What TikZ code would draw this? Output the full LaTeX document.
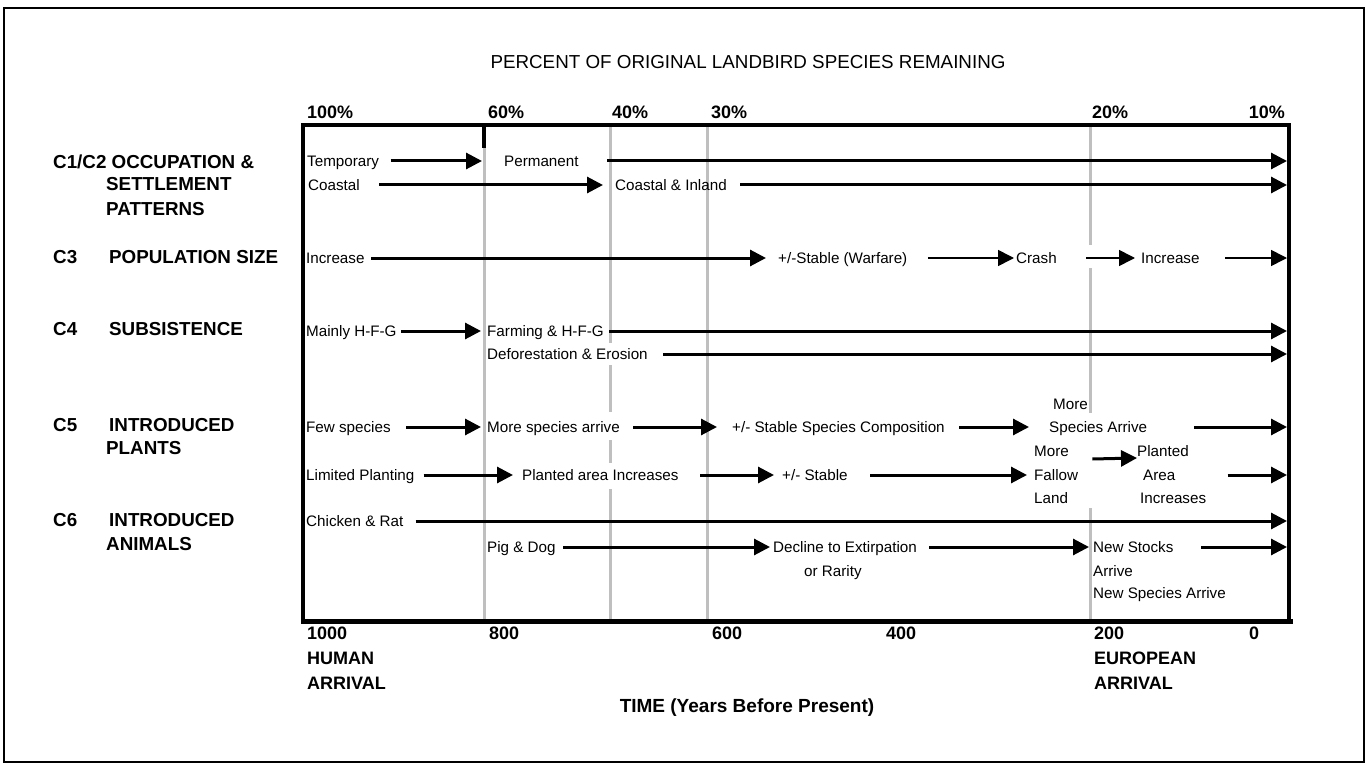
\documentclass[tikz,border=0pt]{standalone}
\usepackage{fontspec}
\setmainfont{Liberation Sans}
\usetikzlibrary{arrows.meta}
\begin{document}
\begin{tikzpicture}[x=1pt,y=-1pt,
  row/.style={font=\fontsize{15.2}{18}\selectfont, inner sep=0pt, anchor=west, text height=10.9pt, text depth=0pt},
  hdr/.style={font=\bfseries\fontsize{18.8}{22}\selectfont, inner sep=0pt, anchor=west, text height=13.5pt, text depth=0pt},
  ax/.style={font=\bfseries\fontsize{18}{22}\selectfont, inner sep=0pt, anchor=west, text height=12.9pt, text depth=0pt},
  arr/.style={line width=3pt, -{Triangle[length=16pt,width=16pt]}},
  tarr/.style={line width=1.6pt, -{Triangle[length=16pt,width=16pt]}},
  gline/.style={line width=3pt, draw=black!25}]
\useasboundingbox (0,0) rectangle (1369,765);
\draw[line width=2pt] (4,8) rectangle (1364,762);

% title
\node[font=\fontsize{18.8}{22}\selectfont, inner sep=0pt] (title) at (748,62) {PERCENT OF ORIGINAL LANDBIRD SPECIES REMAINING};

% percentages
\node[ax] (p100) at (307,112) {100\%};
\node[ax] (p60) at (488,112) {60\%};
\node[ax] (p40) at (612,112) {40\%};
\node[ax] (p30) at (711,112) {30\%};
\node[ax] (p20) at (1092,112) {20\%};
\node[ax, anchor=east] (p10) at (1285,112) {10\%};

% gray time lines
\draw[gline] (484,148) -- (484,621);
\draw[gline] (610,125) -- (610,343) (610,365) -- (610,412) (610,440) -- (610,463) (610,489) -- (610,621);
\draw[gline] (707,125) -- (707,621);
\draw[gline] (1090,125) -- (1090,245) (1090,268) -- (1090,413) (1090,508) -- (1090,621);

% plot frame
\draw[line width=3.5pt] (303,621) -- (303,125) -- (1289,125) -- (1289,621);
\draw[line width=5pt] (301,621) -- (1293,621);
\draw[line width=4.5pt] (484,125) -- (484,148);
\coordinate (pR) at (1287,0);

% left labels
\node[hdr] (l1) at (53,162) {C1/C2 OCCUPATION \&};
\node[hdr] (l1b) at (106,184) {SETTLEMENT};
\node[hdr] (l1c) at (106,209) {PATTERNS};
\node[hdr] (l3) at (53,257) {C3};
\node[hdr] (l3b) at (109,257) {POPULATION SIZE};
\node[hdr] (l4) at (53,329) {C4};
\node[hdr] (l4b) at (109,329) {SUBSISTENCE};
\node[hdr] (l5) at (53,425) {C5};
\node[hdr] (l5b) at (109,425) {INTRODUCED};
\node[hdr] (l5c) at (106,448) {PLANTS};
\node[hdr] (l6) at (53,520) {C6};
\node[hdr] (l6b) at (109,520) {INTRODUCED};
\node[hdr] (l6c) at (106,544) {ANIMALS};

% C1/C2
\node[row] (temp) at (307,161) {Temporary};
\node[row] (perm) at (504,161) {Permanent};
\draw[arr] ([xshift=11.5pt]temp.east) -- ([xshift=-22pt]perm.west);
\draw[arr] ([xshift=28.7pt]perm.east) -- (perm -| pR);
\node[row] (coast) at (308,185) {Coastal};
\node[row] (coastin) at (615,185) {Coastal \& Inland};
\draw[arr] ([xshift=19.5pt]coast.east) -- ([xshift=-12pt]coastin.west);
\draw[arr] ([xshift=13.5pt]coastin.east) -- (coastin -| pR);

% C3
\node[row] (inc1) at (306,258) {Increase};
\node[row] (stab) at (778,258) {+/-Stable (Warfare)};
\node[row] (crash) at (1016,258) {Crash};
\node[row] (inc2) at (1141,258) {Increase};
\draw[arr] ([xshift=6.7pt]inc1.east) -- ([xshift=-12pt]stab.west);
\draw[tarr] ([xshift=20.3pt]stab.east) -- ([xshift=-2pt]crash.west);
\draw[tarr] ([xshift=29.5pt]crash.east) -- ([xshift=-6pt]inc2.west);
\draw[tarr] ([xshift=25.7pt]inc2.east) -- (inc2 -| pR);

% C4
\node[row] (mainly) at (306,331) {Mainly H-F-G};
\node[row] (farm) at (487,331) {Farming \& H-F-G};
\draw[arr] ([xshift=4.7pt]mainly.east) -- ([xshift=-6pt]farm.west);
\draw[arr] ([xshift=5.5pt]farm.east) -- (farm -| pR);
\node[row] (defor) at (487,354) {Deforestation \& Erosion};
\draw[arr] ([xshift=15.5pt]defor.east) -- (defor -| pR);

% C5
\node[row] (few) at (306,427) {Few species};
\node[row] (morea) at (487,427) {More species arrive};
\node[row] (stsp) at (732,427) {+/- Stable Species Composition};
\node[row] (more2) at (1053,404) {More};
\node[row] (spar) at (1049,427) {Species Arrive};
\draw[arr] ([xshift=15.5pt]few.east) -- ([xshift=-6pt]morea.west);
\draw[arr] ([xshift=13.4pt]morea.east) -- ([xshift=-15pt]stsp.west);
\draw[arr] ([xshift=14.5pt]stsp.east) -- ([xshift=-20pt]spar.west);
\draw[arr] ([xshift=47pt]spar.east) -- (spar -| pR);

\node[row] (lim) at (306,475) {Limited Planting};
\node[row] (parea) at (522,475) {Planted area Increases};
\node[row] (stab2) at (782,475) {+/- Stable};
\node[row] (mfl1) at (1034,451) {More};
\node[row] (mfl2) at (1034,475) {Fallow};
\node[row] (mfl3) at (1034,498) {Land};
\node[row] (pai1) at (1137,451) {Planted};
\node[row] (pai2) at (1143,475) {Area};
\node[row] (pai3) at (1140,498) {Increases};
\draw[arr] ([xshift=9pt]lim.east) -- ([xshift=-9pt]parea.west);
\draw[arr] ([xshift=21.7pt]parea.east) -- ([xshift=-8pt]stab2.west);
\draw[arr] ([xshift=22.5pt]stab2.east) -- ([xshift=-7pt]mfl2.west);
\draw[arr] ([xshift=14pt,yshift=16pt]mfl2.east) -- ([yshift=-7pt]pai1.west);
\draw[arr] ([xshift=52pt]pai2.east) -- (pai2 -| pR);

% C6
\node[row] (chick) at (306,521) {Chicken \& Rat};
\draw[arr] ([xshift=12pt]chick.east) -- (chick -| pR);
\node[row] (pig) at (487,547) {Pig \& Dog};
\node[row] (decl) at (773,547) {Decline to Extirpation};
\node[row] (rar) at (804,571) {or Rarity};
\node[row] (newst) at (1093,547) {New Stocks};
\node[row] (arrv) at (1093,571) {Arrive};
\node[row] (newsp) at (1093,593) {New Species Arrive};
\draw[arr] ([xshift=7.6pt]pig.east) -- ([xshift=-3pt]decl.west);
\draw[arr] ([xshift=12.4pt]decl.east) -- ([xshift=-4pt]newst.west);
\draw[arr] ([xshift=27.8pt]newst.east) -- (newst -| pR);

% time axis
\node[ax] (t1000) at (307,633) {1000};
\node[ax] (t800) at (489,633) {800};
\node[ax] (t600) at (712,633) {600};
\node[ax] (t400) at (886,633) {400};
\node[ax] (t200) at (1094,633) {200};
\node[ax] (t0) at (1249,633) {0};
\node[ax] (hum) at (307,658) {HUMAN};
\node[ax] (harr) at (307,683) {ARRIVAL};
\node[ax] (eur) at (1094,658) {EUROPEAN};
\node[ax] (earr) at (1094,683) {ARRIVAL};
\node[font=\bfseries\fontsize{19}{22}\selectfont, inner sep=0pt] (time) at (747,708) {TIME (Years Before Present)};
\end{tikzpicture}
\end{document}
